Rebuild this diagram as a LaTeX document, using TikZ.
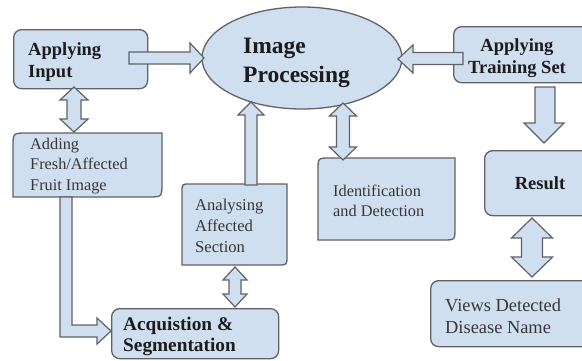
\documentclass[tikz,border=0pt]{standalone}
\usepackage{fontspec}
\setmainfont{Liberation Serif}
\usetikzlibrary{shapes.geometric}
\definecolor{boxblue}{RGB}{207,223,240}
\definecolor{edgegray}{RGB}{95,98,102}
\definecolor{inkdark}{RGB}{28,28,28}
\definecolor{inkgray}{RGB}{55,55,58}
\newcommand\ptext[2]{\parbox[t]{#1}{#2}}
\begin{document}
\begin{tikzpicture}[x=1pt,y=-1pt,
  shapebox/.style={draw=edgegray, fill=boxblue, line width=1.3pt},
  roundbox/.style={shapebox, rounded corners=8pt, anchor=north west, inner sep=0pt},
  fat/.style={draw=edgegray, fill=boxblue, line width=1.2pt, line join=miter},
  boldtxt/.style={inner sep=0pt, anchor=base west, text=inkdark, font=\bfseries\fontsize{18.5}{22}\selectfont},
  bigtxt/.style={inner sep=0pt, anchor=base west, text=inkdark, font=\bfseries\fontsize{23.5}{29}\selectfont},
  regtxt/.style={inner sep=0pt, anchor=base west, text=inkgray, font=\fontsize{16.3}{20.5}\selectfont}
]
\useasboundingbox (0,0) rectangle (582,360);
\clip (0,0) rectangle (582,360);
\fill[white] (0,0) rectangle (582,360);

% boxes
\node[roundbox, minimum width=134pt, minimum height=59pt] (inbox) at (13,29) {};
\node[ellipse, shapebox, minimum width=200pt, minimum height=102pt, inner sep=0pt] (ip) at (302,58) {};
\node[roundbox, minimum width=140pt, minimum height=56pt] (trainbox) at (453,26) {};
\node[roundbox, minimum width=110pt, minimum height=65pt] (resbox) at (484,150) {};
\node[roundbox, minimum width=160pt, minimum height=66pt] (viewbox) at (430,280) {};
\node[roundbox, minimum width=167pt, minimum height=50pt] (acqbox) at (111,308) {};
% diagonal rounded boxes
\draw[shapebox] (13,147) .. controls (13,133) .. (27,133) -- (162,133) -- (162,183) .. controls (162,197) .. (148,197) -- (13,197) -- cycle;
\draw[shapebox] (318,170) .. controls (318,158) .. (330,158) -- (455,158) -- (455,228) .. controls (455,240) .. (443,240) -- (318,240) -- cycle;
\draw[shapebox] (182,192) .. controls (182,184) .. (190,184) -- (287,184) -- (287,256) .. controls (287,265) .. (278,265) -- (182,265) -- cycle;

% block arrows
\draw[fat] (129,52) -- (190,52) -- (190,43) -- (204,58) -- (190,73) -- (190,64) -- (129,64) -- cycle;
\draw[fat] (463,52.5) -- (413,52.5) -- (413,45) -- (398,59) -- (413,73) -- (413,64.5) -- (463,64.5) -- cycle;
\draw[fat] (535,87) -- (555,87) -- (555,123) -- (564,123) -- (544,143) -- (524,123) -- (535,123) -- cycle;
\draw[fat] (532,218) -- (552.5,238) -- (542.5,238) -- (542.5,257) -- (552.5,257) -- (532,277) -- (511.5,257) -- (521.5,257) -- (521.5,238) -- (511.5,238) -- cycle;
\draw[fat] (343,103) -- (356.5,116) -- (349.5,116) -- (349.5,147) -- (356.5,147) -- (343,160) -- (329.5,147) -- (336.5,147) -- (336.5,116) -- (329.5,116) -- cycle;
\draw[fat] (74,87) -- (88,100) -- (81,100) -- (81,119) -- (88,119) -- (74,132) -- (60,119) -- (67,119) -- (67,100) -- (60,100) -- cycle;
\draw[fat] (60,197) -- (72,197) -- (72,325) -- (97,325) -- (97,318) -- (111,331) -- (97,344) -- (97,337) -- (60,337) -- cycle;
\draw[fat] (251,102) -- (264,115) -- (257,115) -- (257,185) -- (245,185) -- (245,115) -- (238,115) -- cycle;
\draw[fat] (235,267) -- (247,280) -- (241,280) -- (241,294) -- (247,294) -- (235,307) -- (223,294) -- (229,294) -- (229,280) -- (223,280) -- cycle;

% texts
\node[boldtxt] (tinput) at (28,55) {\ptext{150pt}{Applying\\Input}};
\node[bigtxt] (tip) at (243,53) {\ptext{150pt}{Image\\Processing}};
\node[boldtxt, anchor=base] (ttrain) at (517,51) {\ptext{130pt}{\centering Applying\\Training Set}};
\node[boldtxt, anchor=base] (tres) at (540,189) {Result};
\node[regtxt] (tadd) at (30,149) {\ptext{150pt}{Adding\\Fresh/Affected\\Fruit Image}};
\node[regtxt, font=\fontsize{16.6}{21}\selectfont] (tana) at (195,210) {\ptext{100pt}{Analysing\\Affected\\Section}};
\node[regtxt, font=\fontsize{16.3}{20}\selectfont] (tident) at (333,196) {\ptext{130pt}{Identification\\and Detection}};
\node[regtxt, font=\fontsize{18.4}{22}\selectfont] (tviews) at (445,311) {\ptext{150pt}{Views Detected\\Disease Name}};
\node[boldtxt, font=\bfseries\fontsize{19.3}{21.5}\selectfont] (tacq) at (123,330) {\ptext{160pt}{Acquistion \&\\Segmentation}};
\end{tikzpicture}
\end{document}
